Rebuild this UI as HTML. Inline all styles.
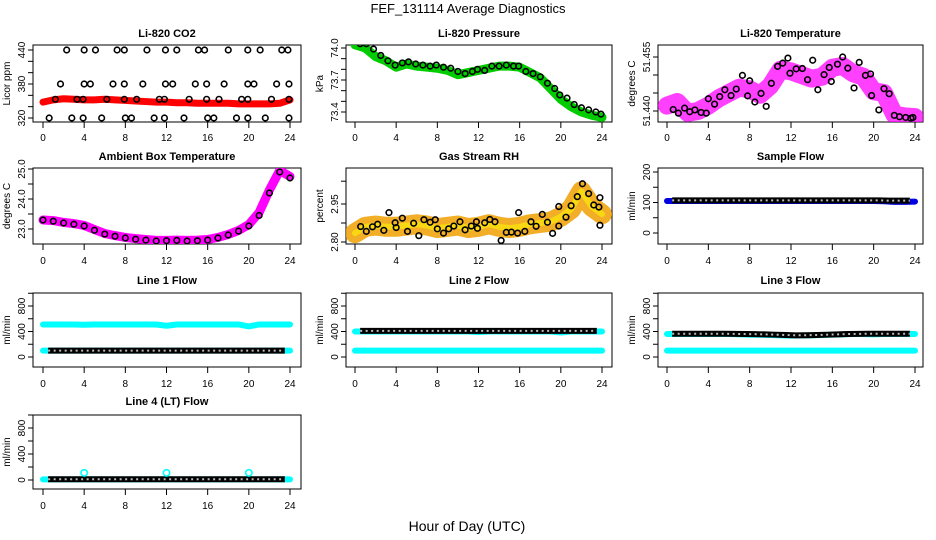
<!DOCTYPE html>
<html><head><meta charset="utf-8"><style>
body{margin:0;background:#fff;}
svg{display:block;font-family:"Liberation Sans",sans-serif;}
.ttl{font-size:11px;font-weight:bold;text-anchor:middle;}
.tk{font-size:10px;text-anchor:middle;}
.yl{font-size:10px;text-anchor:middle;}
</style></head><body>
<svg id="c" width="936" height="540" viewBox="0 0 936 540">
<text x="468" y="13" font-size="13" text-anchor="middle">FEF_131114  Average Diagnostics</text>
<text x="467" y="531" font-size="14" text-anchor="middle">Hour of Day (UTC)</text>
</svg>
<script>
const hours=[0,1,2,3,4,5,6,7,8,9,10,11,12,13,14,15,16,17,18,19,20,21,22,23,24];
const xTicks=[0,4,8,12,16,20,24];
// CO2
const co2Band=[348,352,354,353,352,352,353,352,351,350,349,348,348,347,347,346,346,346,346,345,345,345,345,346,352];
const co2PtX=[2.3,4.0,5.1,7.2,7.9,10.1,11.9,13.0,15.1,15.7,18.0,19.9,21.1,23.2,23.8,1.7,4.0,4.6,6.8,7.9,9.7,11.9,12.6,14.8,15.9,17.6,19.9,20.5,22.7,23.9,1.2,3.3,3.9,6.2,7.9,9.1,11.3,11.8,14.2,15.9,17.1,19.3,19.9,22.2,23.9,0.6,2.8,3.9,5.7,8.0,8.6,10.8,11.8,13.7,16.0,16.6,18.8,19.9,21.6,23.9];
const co2PtY=[440,440,440,440,440,440,440,440,440,440,440,440,440,440,440,380,380,380,380,380,380,380,380,380,380,380,380,380,380,380,353,353,353,353,353,353,353,353,353,353,353,353,353,353,353,320,320,320,320,320,320,320,320,320,320,320,320,320,320,320];
// Pressure
const presBand=[74.03,74.0,73.92,73.88,73.82,73.85,73.83,73.82,73.81,73.79,73.75,73.77,73.79,73.81,73.83,73.83,73.82,73.77,73.72,73.62,73.52,73.45,73.40,73.37,73.35];
const presPtX=[0.5,1.1,1.8,2.5,3.2,3.9,4.6,5.2,5.9,6.6,7.3,7.9,8.6,9.3,10.0,10.7,11.4,11.9,12.6,13.3,14.0,14.7,15.4,15.9,16.6,17.3,18.0,18.7,19.4,19.9,20.6,21.3,22.0,22.7,23.4,23.9];
const presPtY=[74.04,74.04,73.99,73.93,73.88,73.84,73.86,73.87,73.85,73.84,73.83,73.84,73.82,73.81,73.78,73.76,73.78,73.80,73.79,73.83,73.83,73.84,73.83,73.83,73.78,73.76,73.73,73.67,73.62,73.56,73.53,73.47,73.44,73.42,73.40,73.38];
// Li-820 temperature
const ltBand=[51.4415,51.4425,51.4395,51.4400,51.4415,51.4435,51.4450,51.4465,51.4460,51.4445,51.4470,51.4515,51.4510,51.4500,51.4490,51.4495,51.4520,51.4525,51.4505,51.4495,51.4455,51.4450,51.4390,51.4385,51.4383];
const ltPtX=[0.6,1.1,1.7,2.2,2.7,3.3,3.8,4.0,4.6,5.1,5.6,6.2,6.7,7.3,7.8,8.0,8.5,9.1,9.6,10.1,10.7,11.2,11.7,11.9,12.5,13.1,13.6,14.1,14.6,15.2,15.7,15.9,16.5,17.0,17.5,18.1,18.6,19.2,19.7,19.8,20.5,21.0,21.5,22.0,22.5,23.1,23.6,23.8];
const ltPtY=[51.4404,51.4394,51.4408,51.4398,51.4403,51.4396,51.4394,51.4434,51.4419,51.4440,51.4459,51.4443,51.4461,51.4499,51.4442,51.4484,51.4425,51.4449,51.4413,51.4477,51.4524,51.4533,51.4547,51.4505,51.4517,51.4518,51.4487,51.4541,51.4459,51.4501,51.4521,51.4482,51.4530,51.4550,51.4519,51.4464,51.4535,51.4499,51.4503,51.4443,51.4403,51.4462,51.4448,51.4388,51.4384,51.4382,51.4380,51.4382];
// Ambient box temperature
const ambBand=[23.30,23.28,23.22,23.18,23.12,22.98,22.85,22.78,22.72,22.68,22.65,22.62,22.62,22.63,22.62,22.63,22.65,22.72,22.82,22.95,23.15,23.55,24.3,24.95,24.75];
const ambPtY=[23.30,23.26,23.20,23.16,23.10,22.96,22.83,22.76,22.70,22.66,22.63,22.60,22.61,22.62,22.60,22.61,22.63,22.70,22.80,22.93,23.10,23.45,24.2,24.9,24.7];
// Gas stream RH
const rhBand=[2.835,2.86,2.865,2.86,2.86,2.865,2.87,2.865,2.855,2.86,2.865,2.855,2.86,2.87,2.86,2.855,2.86,2.87,2.875,2.88,2.90,2.93,3.00,2.94,2.91];
const rhPtX=[0.55,1.1,1.7,2.2,2.8,3.3,3.9,4.0,4.6,5.1,5.7,6.2,6.7,7.3,7.8,8.0,8.6,9.1,9.6,10.2,10.7,11.3,11.8,11.9,12.6,13.1,13.6,14.2,14.7,15.2,15.8,15.9,16.5,17.1,17.6,18.2,18.7,19.2,19.8,19.8,20.5,21.0,21.6,22.1,22.7,23.2,23.7,23.8,23.8];
const rhPtY=[2.861,2.842,2.860,2.870,2.846,2.916,2.876,2.857,2.894,2.842,2.874,2.825,2.888,2.878,2.888,2.852,2.835,2.852,2.863,2.880,2.848,2.863,2.880,2.854,2.876,2.889,2.880,2.806,2.838,2.839,2.835,2.916,2.842,2.880,2.862,2.909,2.878,2.834,2.863,2.940,2.898,2.943,2.979,3.030,2.991,2.946,2.938,2.866,2.975];
// Sample flow
const sfBand=[105,105,105,105,105,105,105,105,105,105,105,105,105,105,105,105,105,105,105,105,105,104,102,102,103];
const sfPt=[107,107,107,107,107,107,107,107,107,107,107,107,107,107,107,107,107,107,107,107,107,106,106,106,107];
// Line flows
const l1Hi=[510,510,510,510,505,510,510,510,510,510,510,510,490,510,510,510,510,510,510,510,480,510,510,510,510];
const l1Lo=[100,100,100,100,100,100,100,100,100,100,100,100,100,100,100,100,100,100,100,100,100,100,100,100,100];
const l1Blk=[100,100,100,100,100,100,100,100,100,100,100,100,100,100,100,100,100,100,100,100,100,100,100,100,100];
const l2Hi=[400,400,400,400,400,400,400,400,400,400,400,400,390,400,400,400,400,400,400,400,385,400,400,400,400];
const l2Lo=[100,100,100,100,100,100,100,100,100,100,100,100,100,100,100,100,100,100,100,100,100,100,100,100,100];
const l2Blk=[410,410,410,410,410,410,410,410,410,410,410,410,410,410,410,410,410,410,410,410,410,410,410,410,410];
const l3Hi=[360,360,360,360,360,360,360,355,350,350,345,340,335,340,340,345,350,355,360,360,355,360,360,360,360];
const l3Lo=[100,100,100,100,100,100,100,100,100,100,100,100,100,100,100,100,100,100,100,100,100,100,100,100,100];
const l3Blk=[365,365,365,365,365,365,362,360,358,355,350,345,340,342,345,350,355,360,362,365,365,365,365,365,365];
const l4Lo=[10,10,10,10,10,10,10,10,10,10,10,10,10,10,10,10,10,10,10,10,10,10,10,10,10];
const l4Blk=[12,12,12,12,12,12,12,12,12,12,12,12,12,12,12,12,12,12,12,12,12,12,12,12,12];
const l4SpikeX=[4,12,20];
const l4SpikeY=[110,110,110];
const flowTicks=[0,200,400,600,800,1000];
const flowLabels=[0,400,800];

const NS="http://www.w3.org/2000/svg";
const svg=document.getElementById('c');
const cols=[{l:33,r:301,x0:43,x24:290},{l:346,r:612,x0:355,x24:602},{l:658,r:923,x0:667,x24:915}];
const rows=[{t:45,b:122,tt:37,tl:141},{t:168,b:244,tt:160,tl:264},{t:293,b:367,tt:284,tl:387},{t:415,b:489,tt:405,tl:509}];
function mk(tag,attrs,parent){const e=document.createElementNS(NS,tag);for(const k in attrs)e.setAttribute(k,attrs[k]);(parent||svg).appendChild(e);return e;}

function panel(ci,ri,title,ylab,v1,p1,v2,p2,yticks,ylabels,fmt,name){
  const c=cols[ci],r=rows[ri];
  const g=mk('g',{});
  
  
  const X=h=>c.x0+(c.x24-c.x0)*h/24;
  const Y=v=>p1+(v-v1)*(p2-p1)/(v2-v1);
  const t=mk('text',{x:(c.l+c.r)/2,y:r.tt,class:'ttl'},g);t.textContent=title;
  
  
  const box=mk('rect',{x:c.l,y:r.t,width:c.r-c.l,height:r.b-r.t,fill:'none',stroke:'#000','stroke-width':1},g);
  
  
  xTicks.forEach(h=>{mk('line',{x1:X(h),x2:X(h),y1:r.b,y2:r.b+6,stroke:'#000'},g);
    const tx=mk('text',{x:X(h),y:r.tl,class:'tk'},g);tx.textContent=h;
    
    });
  yticks.forEach(v=>{const y=Y(v);if(y<r.t-0.5||y>r.b+0.5)return;mk('line',{x1:c.l-5,x2:c.l,y1:y,y2:y,stroke:'#000'},g);});
  ylabels.forEach(v=>{const y=Y(v);const tx=mk('text',{x:0,y:0,class:'tk',transform:`translate(${c.l-8},${y}) rotate(-90)`},g);tx.textContent=fmt(v);
    
    });
  const yl=mk('text',{x:0,y:0,class:'yl',transform:`translate(${c.l-23},${(r.t+r.b)/2}) rotate(-90)`},g);yl.textContent=ylab;
  
  
  const clip=mk('clipPath',{id:'cl'+name},g);mk('rect',{x:c.l,y:r.t,width:c.r-c.l,height:r.b-r.t},clip);
  const pg=mk('g',{'clip-path':`url(#cl${name})`},g);
  return {X,Y,g:pg};
}
function band(P,xs,ys,color,w,nm,op){const pl=mk('polyline',{points:xs.map((h,i)=>P.X(h)+','+P.Y(ys[i])).join(' '),fill:'none',stroke:color,'stroke-width':w,'stroke-linejoin':'round','stroke-linecap':'round',opacity:op||1},P.g);
  
  }
function chain(P,xs,ys,nm){const pts=xs.map((h,i)=>P.X(h)+','+P.Y(ys[i])).join(' ');
  const pl=mk('polyline',{points:pts,fill:'none',stroke:'#000','stroke-width':6},P.g);
  
  
  const pl2=mk('polyline',{points:pts,fill:'none',stroke:'#bbb','stroke-width':2,'stroke-dasharray':'2 3.5'},P.g);
  
  }
function pts(P,xs,ys,color,nm,r){xs.forEach((h,i)=>{const ci=mk('circle',{cx:P.X(h),cy:P.Y(ys[i]),r:r||2.8,fill:'none',stroke:color,'stroke-width':1.6},P.g);
  
  });}
const f0=v=>String(v),f1=v=>v.toFixed(1),f2=v=>v.toFixed(2),f3=v=>v.toFixed(3);

let P=panel(0,0,'Li-820 CO2','Licor ppm',440,50,320,118,[320,340,360,380,400,420,440],[320,380,440],f0,'co2');
band(P,hours,co2Band,'#f00',7,'co2-band');pts(P,co2PtX,co2PtY,'#000','co2-point');
P=panel(1,0,'Li-820 Pressure','kPa',74.0,48,73.4,112,[73.4,73.5,73.6,73.7,73.8,73.9,74.0],[73.4,73.7,74.0],f1,'pressure');
band(P,hours,presBand,'#0c0',9,'pressure-band');pts(P,presPtX,presPtY,'#000','pressure-point');
P=panel(2,0,'Li-820 Temperature','degrees C',51.455,57,51.440,111,[51.440,51.445,51.450,51.455],[51.440,51.455],f3,'li820-temp');
band(P,hours,ltBand,'#f0f',18,'li820-temp-band',0.75);pts(P,ltPtX,ltPtY,'#000','li820-temp-point');
P=panel(0,1,'Ambient Box Temperature','degrees C',25,169,23,229,[23,23.5,24,24.5,25],[23,24,25],f1,'ambient');
band(P,hours,ambBand,'#f0f',9,'ambient-band');pts(P,hours,ambPtY,'#000','ambient-point');
P=panel(1,1,'Gas Stream RH','percent',2.95,204,2.80,242,[2.80,2.875,2.95,3.04],[2.80,2.95],f2,'rh');
band(P,hours,rhBand,'#f0a000',20,'rh-band',0.85);band(P,hours,rhBand,'#ff0',6,'rh-band-highlight',0.5);pts(P,rhPtX,rhPtY,'#000','rh-point');
P=panel(2,1,'Sample Flow','ml/min',200,172,0,233,[0,50,100,150,200],[0,100,200],f0,'sample-flow');
band(P,hours,sfBand,'#0000e0',6,'sample-flow-band');chain(P,hours.slice(0,24).map(h=>h+0.5),sfPt.slice(0,24),'sample-flow-chain');
const fy=[800,306,0,357];
const fy4=[800,428,0,480];
P=panel(0,2,'Line 1 Flow','ml/min',...fy,flowTicks,flowLabels,f0,'line1');
band(P,hours,l1Hi,'#0ff',6,'line1-cyan-high');band(P,hours,l1Lo,'#0ff',6,'line1-cyan-low');chain(P,hours.slice(0,24).map(h=>h+0.5),l1Blk.slice(0,24),'line1-black-chain');
P=panel(1,2,'Line 2 Flow','ml/min',...fy,flowTicks,flowLabels,f0,'line2');
band(P,hours,l2Hi,'#0ff',6,'line2-cyan-high');band(P,hours,l2Lo,'#0ff',6,'line2-cyan-low');chain(P,hours.slice(0,24).map(h=>h+0.5),l2Blk.slice(0,24),'line2-black-chain');
P=panel(2,2,'Line 3 Flow','ml/min',...fy,flowTicks,flowLabels,f0,'line3');
band(P,hours,l3Hi,'#0ff',6,'line3-cyan-high');band(P,hours,l3Lo,'#0ff',6,'line3-cyan-low');chain(P,hours.slice(0,24).map(h=>h+0.5),l3Blk.slice(0,24),'line3-black-chain');
P=panel(0,3,'Line 4 (LT) Flow','ml/min',...fy4,flowTicks,flowLabels,f0,'line4');
band(P,hours,l4Lo,'#0ff',6,'line4-cyan-low');chain(P,hours.slice(0,24).map(h=>h+0.5),l4Blk.slice(0,24),'line4-black-chain');pts(P,l4SpikeX,l4SpikeY,'#0ff','line4-spike-point',3.2);
</script>
</body></html>
